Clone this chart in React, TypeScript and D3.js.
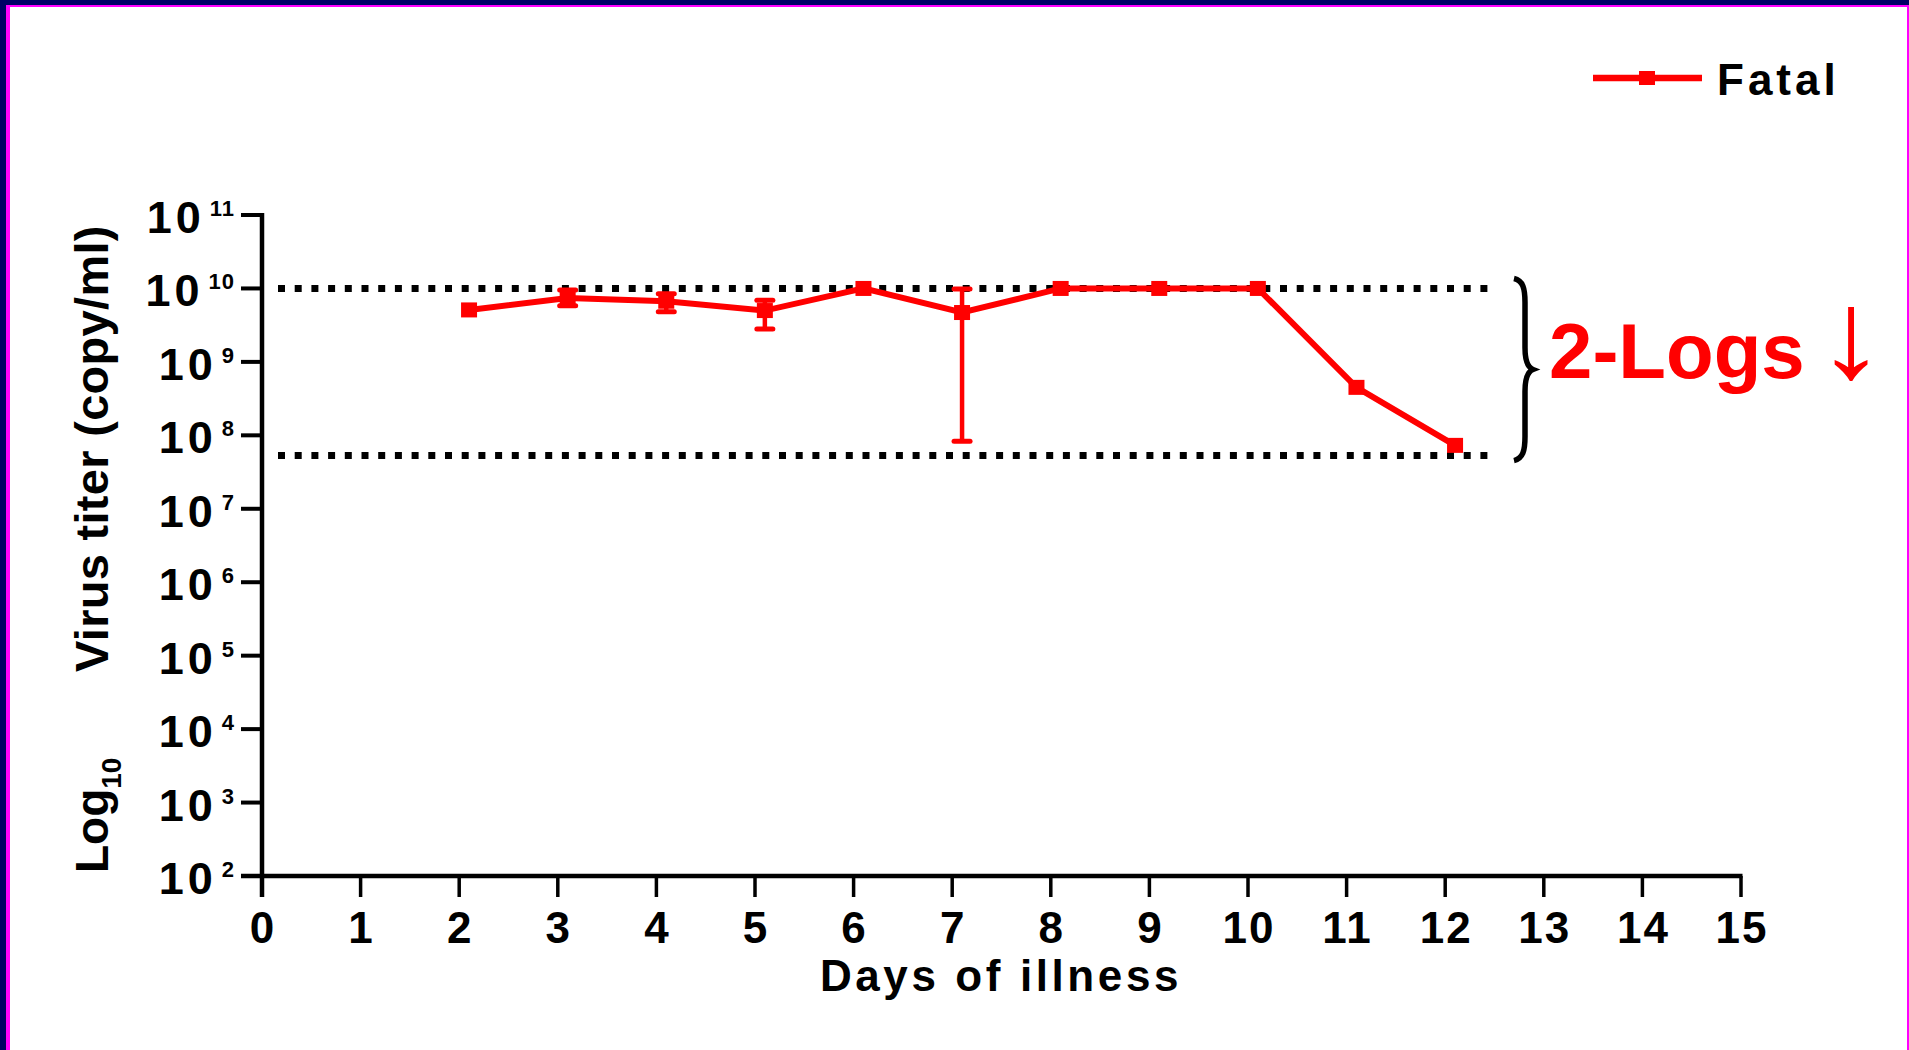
import React from "react";
import * as d3 from "d3";

const days = [2.1, 3.1, 4.1, 5.1, 6.1, 7.1, 8.1, 9.1, 10.1, 11.1, 12.1];
const titer = [5.1e9, 7.4e9, 6.7e9, 5.0e9, 1.0e10, 4.7e9, 1.0e10, 1.0e10, 1.0e10, 4.5e8, 7.3e7];
const errLow: (number | null)[] = [null, 5.8e9, 4.8e9, 2.8e9, null, 8.3e7, null, null, null, null, null];
const errHigh: (number | null)[] = [null, 9.5e9, 8.5e9, 6.9e9, null, 9.8e9, null, null, null, null, null];
const xTicks = [0, 1, 2, 3, 4, 5, 6, 7, 8, 9, 10, 11, 12, 13, 14, 15];
const yExponents = [2, 3, 4, 5, 6, 7, 8, 9, 10, 11];
const refLines = [1e10, 5.3e7];
const seriesName = "Fatal";
const annotation = "2-Logs";
const arrowGlyph = "↓";

const W = 1909;
const H = 1050;
const RED = "#FF0000";
const FONT = "'Liberation Sans', Arial, sans-serif";

export default function App() {
  const x = d3.scaleLinear().domain([0, 15]).range([262, 1741]);
  const y = d3.scaleLog().domain([1e2, 1e11]).range([876, 215]);
  const line = d3
    .line<number>()
    .x((_, i) => x(days[i]))
    .y((d) => y(d));

  const yTop = y(1e11);
  const yBot = y(1e2);
  const x0 = x(0);
  const x15 = x(15);

  const braceTop = y(refLines[0]) - 10;
  const braceBot = y(refLines[1]) + 5;
  const braceMid = (braceTop + braceBot) / 2;
  const bx = 1514;
  const bracePath = `M${bx},${braceTop} C${bx + 9},${braceTop + 2} ${bx + 11},${braceTop + 10} ${bx + 11},${braceTop + 24}
    L${bx + 11},${braceMid - 22} C${bx + 11},${braceMid - 8} ${bx + 14},${braceMid - 2} ${bx + 19},${braceMid}
    C${bx + 14},${braceMid + 2} ${bx + 11},${braceMid + 8} ${bx + 11},${braceMid + 22}
    L${bx + 11},${braceBot - 24} C${bx + 11},${braceBot - 10} ${bx + 9},${braceBot - 2} ${bx},${braceBot}`;

  return (
    <div style={{ position: "fixed", left: 0, top: 0 }}>
      <svg width={W} height={H} style={{ display: "block", background: "#fff" }} fontFamily={FONT}>
        {/* frame */}
        <rect x={0} y={0} width={W} height={H} fill="#fff" />
        <rect x={0} y={0} width={W} height={5} fill="#000066" />
        <rect x={0} y={0} width={6} height={H} fill="#000066" />
        <rect x={6} y={5} width={W - 6} height={2} fill="#FF00FF" />
        <rect x={6} y={5} width={4} height={H - 5} fill="#FF00FF" />
        <rect x={W - 2} y={5} width={2} height={H - 5} fill="#FF00FF" />

        {/* reference dotted lines */}
        {refLines.map((v, i) => (
          <line
            key={"ref" + i}
            x1={278}
            x2={1495}
            y1={y(v)}
            y2={y(v)}
            stroke="#000"
            strokeWidth={7}
            strokeDasharray="7 9.7"
          />
        ))}

        {/* axes */}
        <line x1={x0} x2={x0} y1={yTop - 2} y2={yBot + 21} stroke="#000" strokeWidth={4.5} />
        <line x1={x0 - 21} x2={x15 + 1.5} y1={yBot} y2={yBot} stroke="#000" strokeWidth={4.5} />
        {yExponents.map((e) => (
          <g key={"yt" + e}>
            <line x1={x0 - 21} x2={x0} y1={y(Math.pow(10, e))} y2={y(Math.pow(10, e))} stroke="#000" strokeWidth={4} />
            <text x={235} y={y(Math.pow(10, e)) + 18} textAnchor="end" fontWeight="bold" fontSize={45} fill="#000">
              <tspan letterSpacing={4}>10</tspan>
              <tspan fontSize={22} dx={5} dy={-17} letterSpacing={1}>{String(e)}</tspan>
            </text>
          </g>
        ))}
        {xTicks.map((t) => (
          <g key={"xt" + t}>
            <line x1={x(t)} x2={x(t)} y1={yBot} y2={yBot + 21} stroke="#000" strokeWidth={3.5} />
            <text x={x(t) + 1} y={943} textAnchor="middle" fontWeight="bold" fontSize={44} letterSpacing={2} fill="#000">
              {String(t)}
            </text>
          </g>
        ))}

        {/* axis titles */}
        <text x={1001} y={991} textAnchor="middle" fontWeight="bold" fontSize={44} letterSpacing={3.6} fill="#000">
          Days of illness
        </text>
        <text transform="translate(108,672) rotate(-90)" fontWeight="bold" fontSize={47} letterSpacing={0.3} fill="#000">
          Virus titer (copy/ml)
        </text>
        <text transform="translate(108,873) rotate(-90)" fontWeight="bold" fontSize={46} fill="#000">
          Log
          <tspan fontSize={28} dy={13}>10</tspan>
        </text>

        {/* error bars */}
        {days.map((d, i) =>
          errLow[i] != null && errHigh[i] != null ? (
            <g key={"eb" + i}>
              <line x1={x(d)} x2={x(d)} y1={y(errLow[i] as number)} y2={y(errHigh[i] as number)} stroke={RED} strokeWidth={4.5} />
              <line x1={x(d) - 8} x2={x(d) + 8} y1={y(errLow[i] as number)} y2={y(errLow[i] as number)} stroke={RED} strokeWidth={5} strokeLinecap="round" />
              <line x1={x(d) - 8} x2={x(d) + 8} y1={y(errHigh[i] as number)} y2={y(errHigh[i] as number)} stroke={RED} strokeWidth={5} strokeLinecap="round" />
            </g>
          ) : null
        )}

        {/* series */}
        <path d={line(titer) || ""} fill="none" stroke={RED} strokeWidth={6} />
        {days.map((d, i) => (
          <rect key={"m" + i} x={x(d) - 8} y={y(titer[i]) - 7.5} width={16} height={15} fill={RED} />
        ))}

        {/* legend */}
        <line x1={1593} x2={1702} y1={78} y2={78} stroke={RED} strokeWidth={6.5} />
        <rect x={1639} y={71} width={16} height={14} fill={RED} />
        <text x={1717} y={95} fontWeight="bold" fontSize={44} letterSpacing={4} fill="#000">
          {seriesName}
        </text>

        {/* brace and annotation */}
        <path d={bracePath} fill="none" stroke="#000" strokeWidth={5.5} />
        <text x={1549} y={378} fontWeight="bold" fontSize={78} fill={RED}>
          {annotation}
        </text>
        <text transform="translate(1851,377) scale(1.12,1)" textAnchor="middle" fontWeight="normal" fontSize={125} fill={RED}>
          {arrowGlyph}
        </text>
      </svg>
    </div>
  );
}
